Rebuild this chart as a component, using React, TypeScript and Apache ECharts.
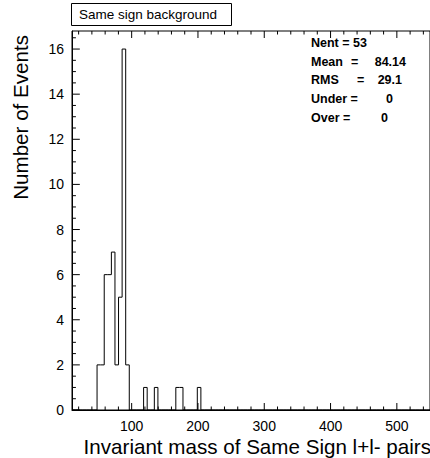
import React, { useEffect, useRef } from "react";
import * as echarts from "echarts";

// Histogram definition (100 bins from 10 to 550)
const xMin = 10;
const xMax = 550;
const nBins = 100;
const filledBins = [7, 8, 9, 10, 11, 12, 13, 14, 15, 20, 23, 29, 30, 35];
const filledCounts = [2, 2, 6, 6, 7, 2, 5, 16, 2, 1, 1, 1, 1, 1];

const xMajorTicks = [100, 200, 300, 400, 500];
const xMinorTicks = [20, 40, 60, 80, 120, 140, 160, 180, 220, 240, 260, 280, 320, 340, 360, 380, 420, 440, 460, 480, 520, 540];
const yMajorTicks = [0, 2, 4, 6, 8, 10, 12, 14, 16];
const yMinorTicks = [0.5, 1, 1.5, 2.5, 3, 3.5, 4.5, 5, 5.5, 6.5, 7, 7.5, 8.5, 9, 9.5, 10.5, 11, 11.5, 12.5, 13, 13.5, 14.5, 15, 15.5, 16.5];
const yMax = 16.8;

const titleText = "Same sign background";
const xTitle = "Invariant mass of Same Sign l+l- pairs";
const yTitle = "Number of Events";

const statLabels = ["Nent = 53", "Mean", "RMS", "Under =", "Over"];
const statEquals = ["", "=", "=", "", "="];
const statValues = ["", "84.14", "29.1", "0", "0"];

const FONT = "'Liberation Sans', Arial, Helvetica, sans-serif";

const GRID_W = 366;
const GRID_H = 379;

export default function App() {
  const ref = useRef<HTMLDivElement>(null);
  useEffect(() => {
    if (!ref.current) return;
    const chart = echarts.init(ref.current, null, { renderer: "svg" });
    const binW = (xMax - xMin) / nBins;
    const counts: number[] = new Array(nBins).fill(0);
    filledBins.forEach((b, i) => (counts[b] = filledCounts[i]));
    const outline: number[][] = [];
    counts.forEach((c, i) => {
      const lo = xMin + i * binW;
      outline.push([lo, c]);
      outline.push([lo + binW, c]);
    });

    // tick marks as broken line segments in data space (pixel lengths converted by axis scale)
    const ypp = yMax / GRID_H;
    const xpp = (xMax - xMin) / GRID_W;
    const tickData: any[] = [];
    const addX = (vals: number[], len: number) =>
      vals.forEach((v) => {
        tickData.push([v, 0], [v, len * ypp], [v, null]);
        tickData.push([v, yMax], [v, yMax - len * ypp], [v, null]);
      });
    const addY = (vals: number[], len: number) =>
      vals.forEach((v) => {
        tickData.push([xMin, v], [xMin + len * xpp, v], [xMin, null]);
      });
    addX(xMajorTicks, 7);
    addX(xMinorTicks, 3.5);
    addY(yMajorTicks, 8);
    addY(yMinorTicks, 4);

    const statX1 = [311, 311, 311, 311, 311];
    const statX2 = [0, 351, 357, 0, 343];
    const statX3 = [0, 406, 402, 393, 388];
    const statY = [43, 61.5, 80, 99, 117.5];
    const statFont = `bold 12.5px ${FONT}`;
    const graphics: any[] = [
      {
        type: "rect",
        shape: { x: 71.5, y: 3.5, width: 160, height: 22 },
        style: { fill: "#fff", stroke: "#000", lineWidth: 1 },
      },
      {
        type: "text",
        x: 79,
        y: 14.5,
        style: { text: titleText, font: `13.5px ${FONT}`, fill: "#000", verticalAlign: "middle", textAlign: "left" },
      },
      {
        type: "text",
        x: 431,
        y: 446,
        style: { text: xTitle, font: `20.6px ${FONT}`, fill: "#000", verticalAlign: "middle", textAlign: "right" },
      },
      {
        type: "text",
        x: 20,
        y: 35,
        rotation: Math.PI / 2,
        style: { text: yTitle, font: `20.6px ${FONT}`, fill: "#000", verticalAlign: "middle", textAlign: "right" },
      },
    ];
    statLabels.forEach((l, i) => {
      graphics.push({
        type: "text",
        x: statX1[i],
        y: statY[i],
        style: { text: l, font: statFont, fill: "#000", verticalAlign: "middle" },
      });
      if (statEquals[i])
        graphics.push({
          type: "text",
          x: statX2[i],
          y: statY[i],
          style: { text: statEquals[i], font: statFont, fill: "#000", verticalAlign: "middle" },
        });
      if (statValues[i])
        graphics.push({
          type: "text",
          x: statX3[i],
          y: statY[i],
          style: { text: statValues[i], font: statFont, fill: "#000", verticalAlign: "middle", textAlign: "right" },
        });
    });

    chart.setOption({
      animation: false,
      backgroundColor: "#fff",
      grid: {
        left: 72,
        top: 31,
        width: GRID_W,
        height: GRID_H,
        show: true,
        borderColor: "#000",
        borderWidth: 1,
        backgroundColor: "transparent",
        containLabel: false,
      },
      xAxis: {
        type: "value",
        min: xMin,
        max: xMax,
        position: "bottom",
        splitLine: { show: false },
        axisLine: { show: true, lineStyle: { color: "#000", width: 1 } },
        axisTick: { show: false },
        axisLabel: { show: true, customValues: xMajorTicks, fontSize: 14, fontFamily: FONT, color: "#000", margin: 9 },
      },
      yAxis: {
        type: "value",
        min: 0,
        max: yMax,
        position: "left",
        splitLine: { show: false },
        axisLine: { show: true, lineStyle: { color: "#000", width: 1 } },
        axisTick: { show: false },
        axisLabel: { show: true, customValues: yMajorTicks, fontSize: 14, fontFamily: FONT, color: "#000", margin: 8 },
      },
      series: [
        {
          type: "line",
          data: outline,
          symbol: "none",
          clip: true,
          lineStyle: { color: "#000", width: 1 },
          silent: true,
        },
        {
          type: "line",
          data: tickData,
          symbol: "none",
          showSymbol: false,
          connectNulls: false,
          clip: false,
          lineStyle: { color: "#000", width: 1 },
          silent: true,
        },
      ],
      graphic: graphics,
    });
    return () => chart.dispose();
  }, []);
  return (
    <div
      ref={ref}
      style={{ position: "fixed", left: 0, top: 0, width: 430, height: 458, background: "#fff" }}
    />
  );
}
